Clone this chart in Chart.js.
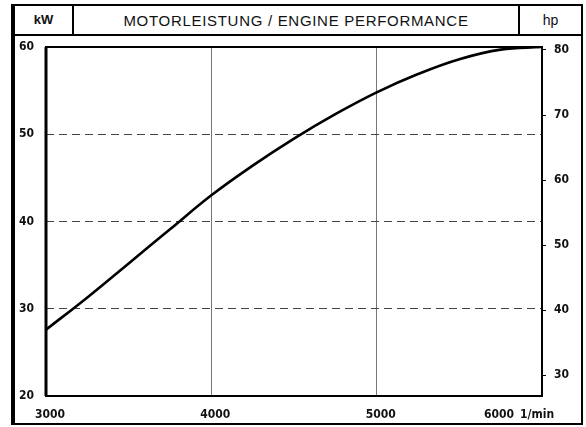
<!DOCTYPE html>
<html>
<head>
<meta charset="utf-8">
<script src="https://cdn.jsdelivr.net/npm/chart.js@4.4.0/dist/chart.umd.min.js"></script>
<style>
  html, body { margin: 0; padding: 0; background: #fff; }
  #wrap { position: relative; width: 586px; height: 427px; overflow: hidden; }
  #frame {
    position: absolute; left: 11px; top: 4px; width: 566px; height: 417px;
    border: 2px solid #000; border-left-width: 4px;
  }
  #head {
    position: absolute; left: 0; top: 0; right: 0; height: 28px;
    border-bottom: 2px solid #000;
    font-family: "Liberation Sans", Arial, sans-serif; color: #111;
  }
  .cell { position: absolute; top: 1px; height: 28px; line-height: 28px; text-align: center; }
  #c1 { left: 0; width: 57px; font-size: 13px; font-weight: bold; border-right: 2px solid #000; top: 0; }
  #c2 { left: 59px; width: 444px; font-size: 15px; letter-spacing: 0.7px; }
  #c3 { left: 503px; right: 0; font-size: 14px; border-left: 2px solid #000; top: 0; }
  canvas { position: absolute; left: 0; top: 0; }
</style>
</head>
<body>
<div id="wrap">
  <div id="frame">
    <div id="head">
      <div class="cell" id="c1">kW</div>
      <div class="cell" id="c2">MOTORLEISTUNG / ENGINE PERFORMANCE</div>
      <div class="cell" id="c3">hp</div>
    </div>
  </div>
  <canvas id="chart" width="586" height="427"></canvas>
</div>
<script>
// engine speed (1/min) and power (kW)
const rpm = [3000, 3250, 3500, 3750, 4000, 4250, 4500, 4750, 5000, 5250, 5500, 5750, 6000];
const powerKw = [27.6, 31.3, 35.2, 39.1, 43.0, 46.4, 49.5, 52.3, 54.8, 56.9, 58.6, 59.7, 60.0];

const xTicks = [3000, 4000, 5000, 6000];
const xUnit = '1/min';
const kwTicks = [20, 30, 40, 50, 60];
const hpTicks = [30, 40, 50, 60, 70, 80];
const KW_TO_HP = 1.341;

const tickFont = { family: '"Liberation Sans Narrow", "DejaVu Sans Condensed", sans-serif', size: 12, weight: 'bold' };

// black frame around the plot
const plotFrame = {
  id: 'plotFrame',
  afterDatasetsDraw(chart) {
    const { ctx, chartArea: a } = chart;
    ctx.save();
    ctx.strokeStyle = '#000';
    ctx.lineWidth = 2;
    ctx.strokeRect(a.left, a.top, a.right - a.left, a.bottom - a.top);
    ctx.lineWidth = 3;
    ctx.beginPath();
    ctx.moveTo(a.left, a.top);
    ctx.lineTo(a.left, a.bottom);
    ctx.stroke();
    ctx.restore();
  }
};

// x labels, last one followed by the unit
const xLabels = {
  id: 'xLabels',
  afterDraw(chart) {
    const { ctx, scales: { x }, chartArea: a } = chart;
    ctx.save();
    ctx.fillStyle = '#111';
    ctx.font = 'bold 12px "Liberation Sans Narrow", "DejaVu Sans Condensed", sans-serif';
    ctx.textBaseline = 'middle';
    const y = a.bottom + 19;
    xTicks.forEach((v, i) => {
      const px = x.getPixelForValue(v);
      if (i === xTicks.length - 1) {
        ctx.textAlign = 'right';
        ctx.fillText(String(v), px - 28, y);
        ctx.textAlign = 'left';
        ctx.fillText(xUnit, px - 22, y);
      } else {
        ctx.textAlign = 'center';
        ctx.fillText(String(v), px + 4, y);
      }
    });
    ctx.restore();
  }
};

new Chart(document.getElementById('chart'), {
  type: 'line',
  data: {
    datasets: [{
      data: rpm.map((r, i) => ({ x: r, y: powerKw[i] })),
      borderColor: '#000',
      borderWidth: 2.6,
      pointRadius: 0,
      tension: 0.4,
      fill: false
    }]
  },
  options: {
    responsive: false,
    animation: false,
    layout: { padding: { top: 47, left: 0, right: 0, bottom: 0 } },
    plugins: { legend: { display: false }, tooltip: { enabled: false } },
    scales: {
      x: {
        type: 'linear', min: 3000, max: 6000,
        afterBuildTicks: s => { s.ticks = xTicks.map(v => ({ value: v })); },
        afterFit: s => { s.height = 31; },
        ticks: { display: false },
        border: { display: false },
        grid: {
          color: ctx => (ctx.tick && (ctx.tick.value === 4000 || ctx.tick.value === 5000)) ? '#777' : 'rgba(0,0,0,0)',
          lineWidth: 1,
          drawTicks: false
        }
      },
      y: {
        position: 'left', min: 20, max: 60,
        afterBuildTicks: s => { s.ticks = kwTicks.map(v => ({ value: v })); },
        afterFit: s => { s.width = 46; },
        border: { display: false, dash: [8, 5] },
        ticks: { color: '#111', font: tickFont, padding: 12 },
        grid: {
          color: ctx => (ctx.tick && ctx.tick.value > 20 && ctx.tick.value < 60) ? '#444' : 'rgba(0,0,0,0)',
          lineWidth: 1,
          drawTicks: false
        }
      },
      hp: {
        position: 'right', min: 20 * KW_TO_HP, max: 60 * KW_TO_HP,
        afterBuildTicks: s => { s.ticks = hpTicks.map(v => ({ value: v })); },
        afterFit: s => { s.width = 44; },
        border: { display: false },
        ticks: { color: '#111', font: tickFont, padding: 8 },
        grid: { drawOnChartArea: false, drawTicks: true, tickLength: 4, color: '#000', lineWidth: 1 }
      }
    }
  },
  plugins: [plotFrame, xLabels]
});
</script>
</body>
</html>
